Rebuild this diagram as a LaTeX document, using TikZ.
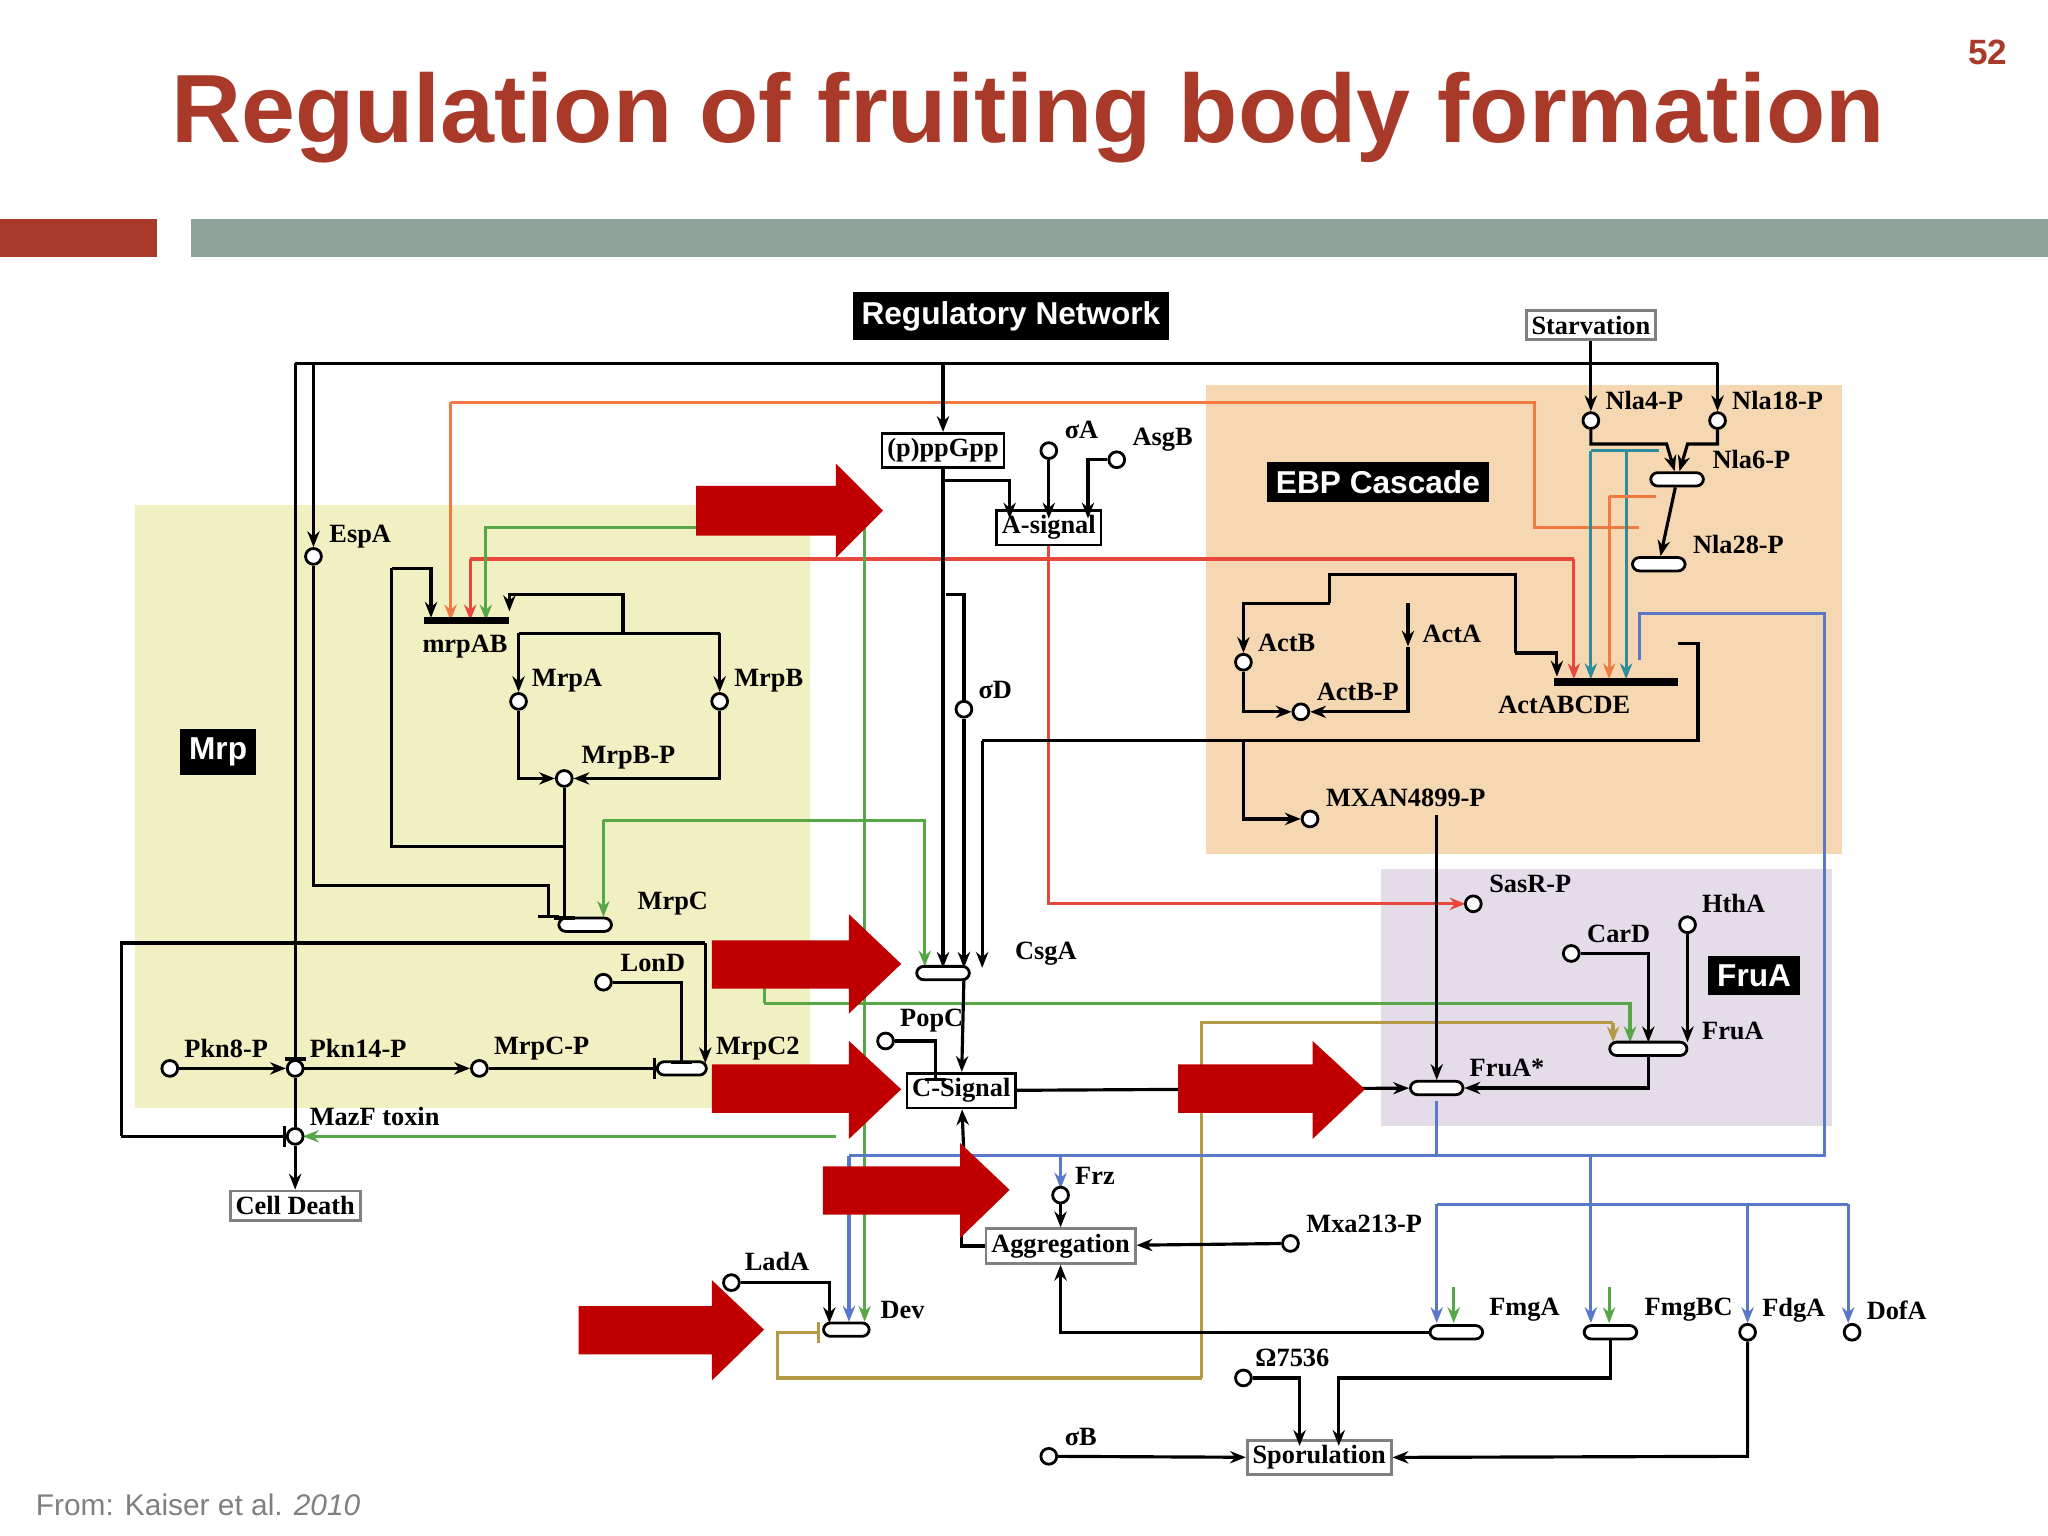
\documentclass[tikz,border=0pt]{standalone}
\usepackage{fontspec}
\setmainfont{Liberation Serif}
\newfontfamily\sansf{Liberation Sans}
\usetikzlibrary{arrows.meta}
\definecolor{ttl}{HTML}{A93A2A}
\definecolor{barg}{HTML}{8FA39A}
\definecolor{yel}{HTML}{F1F0C2}
\definecolor{ora}{HTML}{F5D8B2}
\definecolor{pur}{HTML}{E4DCE9}
\definecolor{cg}{HTML}{55A845}
\definecolor{co}{HTML}{F07A40}
\definecolor{cr}{HTML}{E8483C}
\definecolor{cb}{HTML}{5A78C8}
\definecolor{ct}{HTML}{2F8C9C}
\definecolor{cn}{HTML}{B59A45}
\definecolor{bigr}{HTML}{C00000}
\begin{document}
\begin{tikzpicture}[x=0.013061cm,y=-0.013061cm,
 ln/.style={line width=0.9pt},
 ar/.style={ln,-{Stealth[length=4.5pt,width=3.5pt]}},
 bl/.style={ln,-{Bar[width=6pt]}},
 oc/.style={circle,draw,line width=0.8pt,fill=white,inner sep=0pt,minimum size=4.5pt},
 bar/.style={draw,rounded corners=2pt,fill=white,line width=0.8pt,inner sep=0pt,minimum height=3.8pt,minimum width=15pt},
 lab/.style={font=\fontsize{7.5}{8}\selectfont\bfseries,inner sep=1pt},
 bx/.style={lab,draw,line width=0.8pt,inner sep=1.5pt},
 blk/.style={fill=black,text=white,font=\sansf\bfseries\fontsize{9}{10}\selectfont,inner sep=2.5pt},
 red arrow/.style={fill=bigr,draw=none}]
\useasboundingbox (0,0) rectangle (1568,1176);
% header
\node[text=ttl,font=\sansf\bfseries\fontsize{27.6}{30}\selectfont] (title) at (787,90) {Regulation of fruiting body formation};
\node[text=ttl,font=\sansf\bfseries\fontsize{10}{12}\selectfont] (pg) at (1522,40) {52};
\fill[ttl] (0,168) rectangle (120,197);
\fill[barg] (146,168) rectangle (1568,197);
\node[anchor=west,text=gray,font=\sansf\fontsize{8.5}{10}\selectfont] (src) at (18,1152) {From: Kaiser et al. \textit{2010}};
% regions
\fill[yel] (103,387) rectangle (620,848);
\fill[ora] (923,295) rectangle (1410,654);
\fill[pur] (1057,665) rectangle (1403,862);
\node[blk] (mrp) at (167,576) {Mrp};
\node[blk] (ebp) at (1055,369) {EBP Cascade};
\node[blk] (frua) at (1343,747) {FruA};
\node[blk] (rn) at (774,242) {Regulatory Network};
\node[bx,draw=gray] (starv) at (1218,249) {Starvation};
% coloured lines (behind)
\draw[ln,co] (345,308) -- (1175,308) -- (1175,404) -- (1255,404);
\draw[ar,co] (345,308) -- (345,475);
\draw[ar,cr] (360,428) -- (360,475);
\draw[ln,cr] (360,428) -- (1205,428);
\draw[ar,cr] (1205,428) -- (1205,520);
\draw[ar,cg] (662,404) -- (372,404) -- (372,475);
\draw[ar,cg] (662,404) -- (662,1012);
\draw[ar,cg] (462,628) -- (708,628) -- (708,740);
\draw[ar,cg] (462,628) -- (462,702);
\draw[ar,cg] (585,768) -- (1248,768) -- (1248,798);
\draw[ln,cg] (585,768) -- (585,738);
\draw[ar,cg] (640,870) -- (232,870);
\draw[ln,cn] (920,1055) -- (920,783) -- (1235,783);
\draw[ar,cn] (1235,783) -- (1235,798);
\draw[bl,cn] (920,1055) -- (595,1055) -- (595,1020) -- (628,1020);
\draw[ar,cr] (803,418) -- (803,692) -- (1122,692);
\draw[ln,cb] (1255,505) -- (1255,470) -- (1397,470) -- (1397,885) -- (650,885);
\draw[ar,cb] (650,885) -- (650,1012);
\draw[ar,cb] (1100,843) -- (1100,885) -- (812,885) -- (812,910);
\draw[ln,cb] (1100,922) -- (1415,922);
\draw[ar,cb] (1100,922) -- (1100,1013);
\draw[ar,cb] (1218,885) -- (1218,1013);
\draw[ar,cb] (1338,922) -- (1338,1013);
\draw[ar,cb] (1415,922) -- (1415,1013);
\draw[ar,cg] (1113,985) -- (1113,1013);
\draw[ar,cg] (1232,985) -- (1232,1013);
\draw[ar,ct] (1218,345) -- (1218,520);
\draw[ar,ct] (1245,345) -- (1245,520);
\draw[ln,ct] (1218,345) -- (1270,345);
\draw[ar,co] (1232,380) -- (1232,520);
\draw[ln,co] (1232,380) -- (1268,380);
% nodes: circles and bars
\node[oc] (espa) at (240,426) {};
\node[oc] (mrpa) at (397,537) {};
\node[oc] (mrpb) at (551,537) {};
\node[oc] (mrpbp) at (432,596) {};
\node[oc] (lond) at (462,752) {};
\node[oc] (pkn8) at (130,818) {};
\node[oc] (pkn14) at (226,818) {};
\node[oc] (mrpcp) at (367,818) {};
\node[oc] (mazf) at (226,870) {};
\node[oc] (sa) at (803,345) {};
\node[oc] (asgb) at (855,352) {};
\node[oc] (sd) at (738,543) {};
\node[oc] (popc) at (678,797) {};
\node[oc] (frz) at (812,915) {};
\node[oc] (mxa) at (988,952) {};
\node[oc] (lada) at (560,982) {};
\node[oc] (o75) at (952,1055) {};
\node[oc] (sb) at (803,1115) {};
\node[oc] (fdga) at (1338,1020) {};
\node[oc] (dofa) at (1418,1020) {};
\node[oc] (nla4) at (1218,322) {};
\node[oc] (nla18) at (1315,322) {};
\node[oc] (actb) at (952,507) {};
\node[oc] (actbp) at (996,545) {};
\node[oc] (mxan) at (1003,627) {};
\node[oc] (sasr) at (1128,692) {};
\node[oc] (htha) at (1292,708) {};
\node[oc] (card) at (1203,730) {};
\node[bar] (mrpc) at (448,708) {};
\node[bar,minimum width=14pt] (mrpc2) at (522,818) {};
\node[bar] (csga) at (722,745) {};
\node[bar,minimum width=13pt] (dev) at (648,1018) {};
\node[bar] (fmga) at (1115,1020) {};
\node[bar] (fmgbc) at (1233,1020) {};
\node[bar] (fruas) at (1100,833) {};
\node[bar,minimum width=22pt] (fruab) at (1262,803) {};
\node[bar] (nla6) at (1284,367) {};
\node[bar] (nla28) at (1270,432) {};
\draw[line width=2.2pt] (325,475) -- (390,475);
\draw[line width=2.2pt] (1190,522) -- (1285,522);
% boxes
\node[bx] (ppg) at (722,345) {(p)ppGpp};
\node[bx] (asig) at (803,404) {A-signal};
\node[bx] (csig) at (736,835) {C-Signal};
\node[bx,draw=gray] (agg) at (812,954) {Aggregation};
\node[bx,draw=gray] (spor) at (1010,1116) {Sporulation};
\node[bx,draw=gray] (cd) at (226,923) {Cell Death};
% labels
\node[lab,anchor=west] at (249,411) {EspA};
\node[lab] at (356,495) {mrpAB};
\node[lab,anchor=west] at (404,521) {MrpA};
\node[lab,anchor=west] at (559,521) {MrpB};
\node[lab,anchor=west] at (442,580) {MrpB-P};
\node[lab,anchor=west] at (485,692) {MrpC};
\node[lab,anchor=west] at (472,737) {LonD};
\node[lab,anchor=west] at (545,803) {MrpC2};
\node[lab,anchor=west] at (138,803) {Pkn8-P};
\node[lab,anchor=west] at (234,803) {Pkn14-P};
\node[lab,anchor=west] at (375,803) {MrpC-P};
\node[lab,anchor=west] at (234,855) {MazF toxin};
\node[lab,anchor=west] at (812,329) {σA};
\node[lab,anchor=west] at (864,337) {AsgB};
\node[lab,anchor=west] at (746,528) {σD};
\node[lab,anchor=west] at (774,730) {CsgA};
\node[lab,anchor=west] at (686,781) {PopC};
\node[lab,anchor=west] at (820,900) {Frz};
\node[lab,anchor=west] at (997,937) {Mxa213-P};
\node[lab,anchor=west] at (567,966) {LadA};
\node[lab,anchor=west] at (671,1003) {Dev};
\node[lab,anchor=west] at (1137,1003) {FmgA};
\node[lab,anchor=west] at (1256,1003) {FmgBC};
\node[lab,anchor=west] at (1346,1003) {FdgA};
\node[lab,anchor=west] at (1426,1003) {DofA};
\node[lab,anchor=west] at (958,1040) {Ω7536};
\node[lab,anchor=west] at (812,1100) {σB};
\node[lab,anchor=west] at (1226,307) {Nla4-P};
\node[lab,anchor=west] at (1323,307) {Nla18-P};
\node[lab,anchor=west] at (1308,352) {Nla6-P};
\node[lab,anchor=west] at (1293,417) {Nla28-P};
\node[lab,anchor=west] at (960,492) {ActB};
\node[lab,anchor=west] at (1086,485) {ActA};
\node[lab,anchor=west] at (1005,530) {ActB-P};
\node[lab,anchor=west] at (1144,540) {ActABCDE};
\node[lab,anchor=west] at (1012,611) {MXAN4899-P};
\node[lab,anchor=west] at (1137,677) {SasR-P};
\node[lab,anchor=west] at (1300,692) {HthA};
\node[lab,anchor=west] at (1212,715) {CarD};
\node[lab,anchor=west] at (1300,789) {FruA};
\node[lab,anchor=west] at (1122,818) {FruA*};
% black connectors
\draw[ln] (226,278) -- (1315,278);
\draw[ln] (starv) -- (1218,278);
\draw[bl] (226,278) -- (226,812);
\draw[ln] (226,812) -- (pkn14);
\draw[ar] (240,278) -- (espa);
\draw[bl] (espa) -- (240,678) -- (420,678) -- (420,703);
\draw[ar] (722,278) -- (ppg);
\draw[ar] (1218,278) -- (nla4);
\draw[ar] (1315,278) -- (nla18);
\draw[ar] (nla4) -- (1218,340) -- (1276,340) -- (nla6);
\draw[ar] (nla18) -- (1315,340) -- (1292,340) -- (nla6);
\draw[ar] (nla6) -- (nla28);
\draw[ar] (300,435) -- (330,435) -- (330,473);
\draw[ln] (300,435) -- (300,648) -- (432,648);
\draw[bl] (mrpbp) -- (432,704);
\draw[ar] (477,485) -- (477,455) -- (390,455) -- (390,468);
\draw[ln] (397,485) -- (551,485);
\draw[ar] (397,485) -- (mrpa);
\draw[ar] (551,485) -- (mrpb);
\draw[ar] (mrpa) -- (397,596) -- (mrpbp);
\draw[ar] (mrpb) -- (551,596) -- (mrpbp);
\draw[ln] (93,870) -- (93,722) -- (540,722);
\draw[ar] (540,722) -- (540,814);
\draw[bl] (93,870) -- (mazf);
\draw[bl] (lond) -- (522,752) -- (522,815);
\draw[ar] (pkn8) -- (pkn14);
\draw[ar] (pkn14) -- (mrpcp);
\draw[bl] (mrpcp) -- (mrpc2);
\draw[ln] (pkn14) -- (mazf);
\draw[ar] (mazf) -- (cd);
\draw[ar] (ppg.south) -- (722,741);
\draw[ar] (722,368) -- (773,368) -- (773,397);
\draw[ar] (sa) -- (803,397);
\draw[ar] (asgb) -- (833,352) -- (833,397);
\draw[ln] (724,455) -- (738,455) -- (sd);
\draw[ar] (sd) -- (738,741);
\draw[ln] (1285,493) -- (1300,493) -- (1300,567) -- (752,567);
\draw[ar] (752,567) -- (752,741);
\draw[ar] (738,749) -- (csig);
\draw[bl] (popc) -- (716,797) -- (716,828);
\draw[ar] (csig) -- (fruas);
\draw[ar] (738,885) -- (csig);
\draw[ar] (frz) -- (agg);
\draw[ar] (mxa) -- (agg);
\draw[ar] (fmga) -- (812,1020) -- (agg);
\draw[ln] (736,930) -- (736,954) -- (agg.west);
\draw[ar] (fmgbc) -- (1233,1055) -- (1025,1055) -- (1025,1107);
\draw[ar] (o75) -- (995,1055) -- (995,1107);
\draw[ar] (sb) -- (spor);
\draw[ar] (fdga) -- (1338,1115) -- (spor);
\draw[ar] (lada) -- (635,982) -- (635,1013);
\draw[ln] (1018,462) -- (1018,440) -- (1160,440) -- (1160,500);
\draw[ar] (1160,500) -- (1192,500) -- (1192,518);
\draw[ar] (1018,462) -- (952,462) -- (actb);
\draw[ar] (1078,462) -- (1078,495);
\draw[ar] (actb) -- (952,545) -- (actbp);
\draw[ar] (1078,495) -- (1078,545) -- (actbp);
\draw[ar] (952,567) -- (952,627) -- (mxan);
\draw[ar] (1100,624) -- (fruas);
\draw[ar] (card) -- (1262,730) -- (1262,798);
\draw[ar] (htha) -- (1292,798);
\draw[ar] (fruab) -- (1262,833) -- (fruas);
% big red arrows
\fill[red arrow] (533,372) -- (640,372) -- (640,355) -- (676,391) -- (640,427) -- (640,410) -- (533,410) -- cycle;
\fill[red arrow] (545,720) -- (650,720) -- (650,700) -- (690,738) -- (650,776) -- (650,757) -- (545,757) -- cycle;
\fill[red arrow] (545,815) -- (650,815) -- (650,797) -- (690,834) -- (650,872) -- (650,852) -- (545,852) -- cycle;
\fill[red arrow] (902,815) -- (1005,815) -- (1005,797) -- (1045,834) -- (1005,872) -- (1005,852) -- (902,852) -- cycle;
\fill[red arrow] (630,893) -- (735,893) -- (735,875) -- (773,911) -- (735,948) -- (735,930) -- (630,930) -- cycle;
\fill[red arrow] (443,1000) -- (545,1000) -- (545,980) -- (585,1018) -- (545,1057) -- (545,1037) -- (443,1037) -- cycle;
\end{tikzpicture}
\end{document}
